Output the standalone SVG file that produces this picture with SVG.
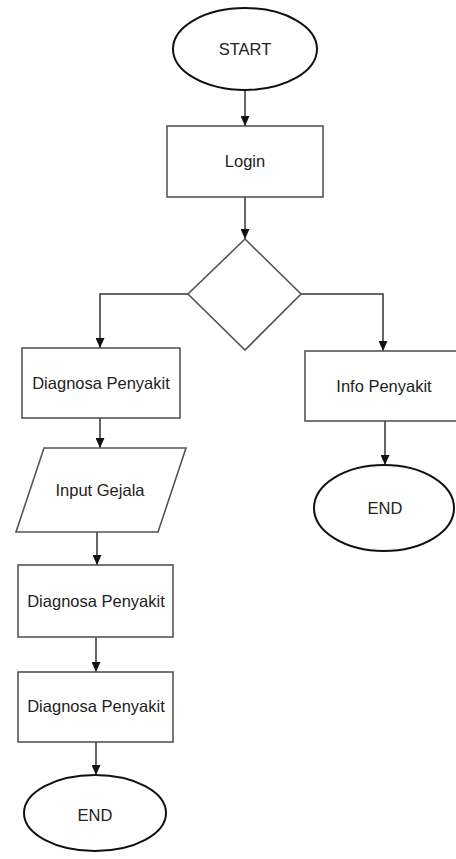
<svg xmlns="http://www.w3.org/2000/svg" width="456" height="859" viewBox="0 0 456 859">
  <defs>
    <marker id="arr" markerWidth="10" markerHeight="9" refX="10" refY="4.5" orient="auto" markerUnits="userSpaceOnUse">
      <path d="M0,0 L10,4.5 L0,9 z" fill="#111"/>
    </marker>
    <style>
      .term { fill: #fff; stroke: #111; stroke-width: 2; }
      .box { fill: #fff; stroke: #555; stroke-width: 1.6; }
      .conn { fill: none; stroke: #333; stroke-width: 1.5; marker-end: url(#arr); }
      .lbl { font-family: "Liberation Sans", Arial, sans-serif; font-size: 16.5px; fill: #222; text-anchor: middle; dominant-baseline: central; }
    </style>
  </defs>
  <rect width="456" height="859" fill="#fff"/>
  <g id="connectors">
    <path class="conn" d="M245,91 L245,126"/>
    <path class="conn" d="M245,197 L245,239"/>
    <path class="conn" d="M188,294 L100,294 L100,348"/>
    <path class="conn" d="M301,294 L383,294 L383,351"/>
    <path class="conn" d="M100,418 L100,448"/>
    <path class="conn" d="M97,532 L97,565"/>
    <path class="conn" d="M96,637 L96,672"/>
    <path class="conn" d="M96,742 L96,775"/>
    <path class="conn" d="M385,421 L385,465"/>
  </g>
  <g id="start">
    <ellipse class="term" cx="245" cy="49" rx="72" ry="41"/>
    <text class="lbl" x="245" y="49">START</text>
  </g>
  <g id="login">
    <rect class="box" x="167" y="126" width="156" height="71"/>
    <text class="lbl" x="245" y="161">Login</text>
  </g>
  <g id="decision">
    <polygon class="box" points="245,239 301,294 245,350 188,294"/>
  </g>
  <g id="diagnosa1">
    <rect class="box" x="22" y="348" width="158" height="70"/>
    <text class="lbl" x="101" y="383">Diagnosa Penyakit</text>
  </g>
  <g id="input-gejala">
    <polygon class="box" points="44,448 186,448 158,532 16,532"/>
    <text class="lbl" x="100" y="490">Input Gejala</text>
  </g>
  <g id="diagnosa2">
    <rect class="box" x="18" y="565" width="155" height="72"/>
    <text class="lbl" x="96" y="601">Diagnosa Penyakit</text>
  </g>
  <g id="diagnosa3">
    <rect class="box" x="18" y="672" width="155" height="70"/>
    <text class="lbl" x="96" y="706">Diagnosa Penyakit</text>
  </g>
  <g id="end-left">
    <ellipse class="term" cx="95" cy="813" rx="71" ry="38"/>
    <text class="lbl" x="95" y="815">END</text>
  </g>
  <g id="info">
    <rect class="box" x="305" y="351" width="156" height="70"/>
    <text class="lbl" x="384" y="386">Info Penyakit</text>
  </g>
  <g id="end-right">
    <ellipse class="term" cx="384" cy="508" rx="70" ry="43"/>
    <text class="lbl" x="385" y="508">END</text>
  </g>
</svg>
